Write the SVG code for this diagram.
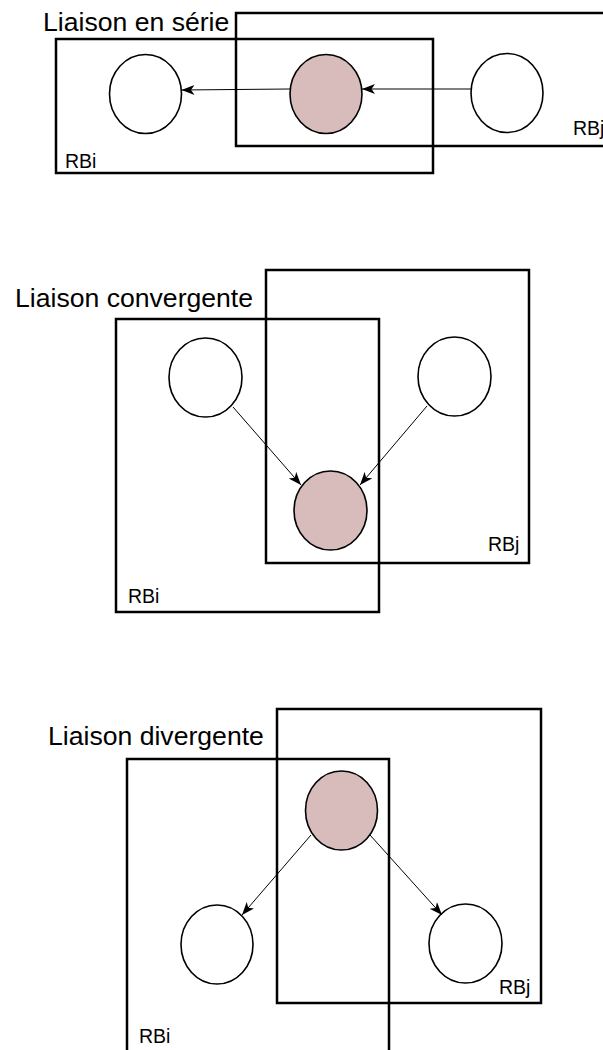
<svg xmlns="http://www.w3.org/2000/svg" width="603" height="1050" viewBox="0 0 603 1050">
<style>
.box{fill:none;stroke:#000;stroke-width:2.5}
.node{fill:#fff;stroke:#000;stroke-width:1.6}
.obs{fill:#d8bcbc;stroke:#000;stroke-width:1.6}
.edge{fill:none;stroke:#000;stroke-width:1;marker-end:url(#arr)}
.title{font-family:"Liberation Sans",Arial,sans-serif;font-size:26.6px;fill:#000}
.lbl{font-family:"Liberation Sans",Arial,sans-serif;font-size:19.5px;fill:#000}
</style>
<defs>
<marker id="arr" markerUnits="userSpaceOnUse" markerWidth="14" markerHeight="11" refX="13" refY="5" orient="auto">
<path d="M0,0 L13,5 L0,10 L3.5,5 Z" fill="#000"/>
</marker>
</defs>
<rect width="603" height="1050" fill="#fff"/>

<!-- Section 1: serie -->
<g id="serie">
<text class="title" x="43" y="31">Liaison en série</text>
<g id="s1-RBi"><rect class="box" x="56" y="39" width="377" height="134"/><text class="lbl" x="65" y="168">RBi</text></g>
<g id="s1-RBj"><rect class="box" x="236" y="13" width="400" height="133"/><text class="lbl" x="573" y="135">RBj</text></g>
<g id="s1-n1"><ellipse class="node" cx="145.5" cy="94" rx="36" ry="39.5"/></g>
<g id="s1-n2"><ellipse class="obs" cx="326" cy="94" rx="36" ry="39.5"/></g>
<g id="s1-n3"><ellipse class="node" cx="507" cy="93" rx="36" ry="39.5"/></g>
<g id="s1-edges">
<line class="edge" x1="471" y1="89" x2="362" y2="89"/>
<line class="edge" x1="290" y1="89" x2="181.5" y2="90"/>
</g>
</g>

<!-- Section 2: convergente -->
<g id="convergente">
<text class="title" x="15" y="307">Liaison convergente</text>
<g id="s2-RBj"><rect class="box" x="266" y="270" width="263" height="293"/><text class="lbl" x="488" y="551">RBj</text></g>
<g id="s2-RBi"><rect class="box" x="116" y="319" width="263" height="293"/><text class="lbl" x="128" y="603">RBi</text></g>
<g id="s2-n1"><ellipse class="node" cx="205.5" cy="377.5" rx="36.5" ry="39.5"/></g>
<g id="s2-n2"><ellipse class="node" cx="454.5" cy="376.5" rx="36.5" ry="39.5"/></g>
<g id="s2-n3"><ellipse class="obs" cx="330.5" cy="510.5" rx="36.5" ry="39.5"/></g>
<g id="s2-edges">
<line class="edge" x1="233" y1="407" x2="301" y2="485"/>
<line class="edge" x1="427" y1="406" x2="360" y2="485"/>
</g>
</g>

<!-- Section 3: divergente -->
<g id="divergente">
<text class="title" x="48" y="745">Liaison divergente</text>
<g id="s3-RBj"><rect class="box" x="277" y="709" width="264" height="294"/><text class="lbl" x="499" y="994">RBj</text></g>
<g id="s3-RBi"><path class="box" d="M127,1060 V759 H389 V1060"/><text class="lbl" x="139" y="1043">RBi</text></g>
<g id="s3-n1"><ellipse class="obs" cx="341.5" cy="810.5" rx="36" ry="39.5"/></g>
<g id="s3-n2"><ellipse class="node" cx="217" cy="944.5" rx="36" ry="39.5"/></g>
<g id="s3-n3"><ellipse class="node" cx="465.5" cy="943.5" rx="36.5" ry="39.5"/></g>
<g id="s3-edges">
<line class="edge" x1="311" y1="835" x2="242" y2="915"/>
<line class="edge" x1="370" y1="835" x2="442" y2="915"/>
</g>
</g>
</svg>
